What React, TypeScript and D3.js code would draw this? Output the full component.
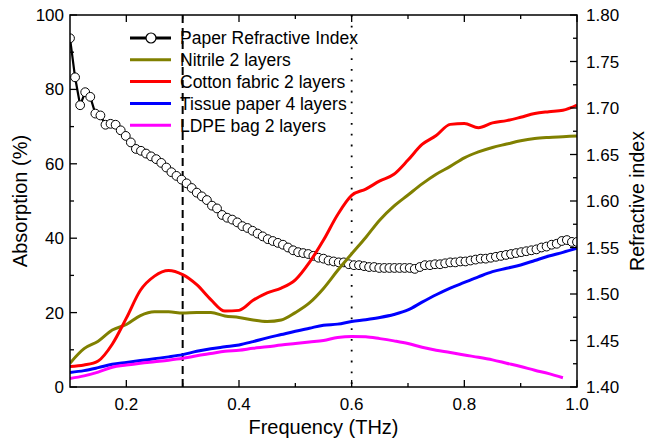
import React from 'react'
import * as d3 from 'd3'

const WIDTH = 647
const HEIGHT = 444
const MARGIN = { top: 15, right: 70, bottom: 57, left: 70 }
const FONT = '"Liberation Sans", Arial, Helvetica, sans-serif'

// shared frequency grid for the absorption curves (THz)
const freq = [
  0.1, 0.125, 0.15, 0.175, 0.2, 0.225, 0.25, 0.275, 0.3, 0.325,
  0.35, 0.375, 0.4, 0.425, 0.45, 0.475, 0.5, 0.525, 0.55, 0.575,
  0.6, 0.625, 0.65, 0.675, 0.7, 0.725, 0.75, 0.775, 0.8, 0.825,
  0.85, 0.875, 0.9, 0.925, 0.95, 0.975, 1.0
]

const nitrile = [
  6.4, 10.3, 12.3, 15.3, 16.8, 19.2, 20.2, 20.2, 19.9, 20.0,
  20.0, 19.1, 18.7, 18.0, 17.6, 18.0, 20.0, 22.6, 26.5, 31.3,
  35.8, 40.2, 44.9, 48.6, 51.6, 54.6, 57.2, 59.3, 61.6, 63.2,
  64.4, 65.3, 66.2, 66.8, 67.1, 67.3, 67.5
]

const cotton = [
  5.5, 5.9, 7.0, 11.5, 18.5, 26.0, 29.8, 31.3, 30.2, 27.5,
  23.5, 20.4, 20.6, 23.3, 25.3, 26.6, 28.8, 33.5, 39.5, 46.3,
  51.5, 53.2, 55.4, 57.2, 61.0, 65.2, 67.6, 70.6, 70.8, 69.7,
  71.0, 71.6, 72.5, 73.5, 74.0, 74.4, 75.8
]

const tissue = [
  3.9, 4.4, 5.2, 6.1, 6.6, 7.1, 7.6, 8.1, 8.7, 9.6,
  10.3, 10.8, 11.3, 12.2, 13.2, 14.1, 15.0, 15.8, 16.6, 16.9,
  17.6, 18.1, 18.7, 19.5, 20.7, 22.8, 24.8, 26.6, 28.1, 29.6,
  31.0, 31.9, 32.8, 34.0, 35.2, 36.2, 37.3
]

const ldpe = [
  2.3, 3.0, 4.0, 5.3, 5.9, 6.4, 6.8, 7.2, 7.7, 8.4,
  9.0, 9.6, 9.9, 10.4, 10.8, 11.3, 11.7, 12.1, 12.5, 13.3,
  13.6, 13.5, 13.0, 12.4, 11.7, 10.7, 9.9, 9.3, 8.6, 8.0,
  7.3, 6.4, 5.5, 4.5, 3.6, 2.5, null
]

// paper refractive index (right axis), sampled denser
const paperFreq = [
  0.100, 0.109, 0.118, 0.127, 0.136, 0.145, 0.154, 0.163, 0.172, 0.181,
  0.190, 0.199, 0.208, 0.217, 0.226, 0.235, 0.244, 0.253, 0.262, 0.271,
  0.280, 0.289, 0.298, 0.307, 0.316, 0.325, 0.334, 0.343, 0.352, 0.361,
  0.370, 0.379, 0.388, 0.397, 0.406, 0.415, 0.424, 0.433, 0.442, 0.451,
  0.460, 0.469, 0.478, 0.487, 0.496, 0.505, 0.514, 0.523, 0.532, 0.541,
  0.550, 0.559, 0.568, 0.577, 0.586, 0.595, 0.604, 0.613, 0.622, 0.631,
  0.640, 0.649, 0.658, 0.667, 0.676, 0.685, 0.694, 0.703, 0.712, 0.721,
  0.730, 0.739, 0.748, 0.757, 0.766, 0.775, 0.784, 0.793, 0.802, 0.811,
  0.820, 0.829, 0.838, 0.847, 0.856, 0.865, 0.874, 0.883, 0.892, 0.901,
  0.910, 0.919, 0.928, 0.937, 0.946, 0.955, 0.964, 0.973, 0.982, 0.991,
  1.000
]

const paperIndex = [
  1.775, 1.733, 1.703, 1.717, 1.712, 1.694, 1.692, 1.682, 1.683, 1.682,
  1.676, 1.670, 1.663, 1.656, 1.654, 1.651, 1.648, 1.645, 1.641, 1.636,
  1.631, 1.627, 1.623, 1.619, 1.614, 1.609, 1.605, 1.601, 1.595, 1.592,
  1.585, 1.582, 1.580, 1.577, 1.573, 1.571, 1.568, 1.565, 1.562, 1.559,
  1.557, 1.555, 1.553, 1.550, 1.547, 1.545, 1.544, 1.543, 1.541, 1.539,
  1.538, 1.536, 1.535, 1.534, 1.534, 1.532, 1.531, 1.531, 1.530, 1.529,
  1.529, 1.528, 1.528, 1.528, 1.528, 1.528, 1.528, 1.528, 1.527, 1.529,
  1.531, 1.531, 1.532, 1.532, 1.533, 1.534, 1.534, 1.535, 1.535, 1.536,
  1.537, 1.538, 1.538, 1.539, 1.540, 1.541, 1.542, 1.543, 1.544, 1.545,
  1.546, 1.547, 1.548, 1.550, 1.551, 1.553, 1.554, 1.557, 1.558, 1.556,
  1.556
]

const xMajor = [0.2, 0.4, 0.6, 0.8, 1.0]
const xMinor = [0.3, 0.5, 0.7, 0.9]
const leftMajor = [0, 20, 40, 60, 80, 100]
const leftMinor = [10, 30, 50, 70, 90]
const rightMajor = [1.4, 1.45, 1.5, 1.55, 1.6, 1.65, 1.7, 1.75, 1.8]
const rightMinor = [1.425, 1.475, 1.525, 1.575, 1.625, 1.675, 1.725, 1.775]

const series = [
  { label: 'Nitrile 2 layers', values: nitrile, color: '#808000' },
  { label: 'Cotton fabric 2 layers', values: cotton, color: '#ff0000' },
  { label: 'Tissue paper 4 layers', values: tissue, color: '#0000ff' },
  { label: 'LDPE bag 2 layers', values: ldpe, color: '#ff00ff' }
]

const App = () => {
  const x = d3.scaleLinear().domain([0.1, 1.0]).range([MARGIN.left, WIDTH - MARGIN.right])
  const y = d3.scaleLinear().domain([0, 100]).range([HEIGHT - MARGIN.bottom, MARGIN.top])
  const yR = d3.scaleLinear().domain([1.4, 1.8]).range([HEIGHT - MARGIN.bottom, MARGIN.top])

  const x0 = x.range()[0]
  const x1 = x.range()[1]
  const yb = y.range()[0]
  const yt = y.range()[1]

  const line = d3
    .line<[number, number | null]>()
    .defined(d => d[1] != null)
    .x(d => x(d[0]))
    .y(d => y(d[1] as number))
    .curve(d3.curveMonotoneX)

  const paperPts = paperFreq.map((f, i) => [x(f), yR(paperIndex[i])] as [number, number])
  const paperLine = d3.line()(paperPts)

  const legendX = 130
  const legendY = 38
  const legendStep = 21.8

  return (
    <div>
      <style>{'body{margin:0}'}</style>
      <svg width={WIDTH} height={HEIGHT} style={{ display: 'block', background: '#fff' }} fontFamily={FONT}>
        <defs>
          <clipPath id="plot">
            <rect x={x0} y={yt} width={x1 - x0} height={yb - yt} />
          </clipPath>
        </defs>

        {/* reference lines */}
        <line x1={x(0.3)} x2={x(0.3)} y1={yt} y2={yb} stroke="#000" strokeWidth={2} strokeDasharray="8,5" />
        <line x1={x(0.6)} x2={x(0.6)} y1={yt} y2={yb} stroke="#000" strokeWidth={1.8} strokeDasharray="1.8,9" />

        <g clipPath="url(#plot)">
          <path d={paperLine || ''} fill="none" stroke="#000" strokeWidth={2.2} />
          {paperPts.map((p, i) => (
            <circle key={i} cx={p[0]} cy={p[1]} r={4.4} fill="#fff" stroke="#000" strokeWidth={1} />
          ))}
          {series.map(s => (
            <path
              key={s.label}
              d={line(freq.map((f, i) => [f, s.values[i]] as [number, number | null])) || ''}
              fill="none"
              stroke={s.color}
              strokeWidth={3}
              strokeLinejoin="round"
            />
          ))}
        </g>

        {/* frame */}
        <rect x={x0} y={yt} width={x1 - x0} height={yb - yt} fill="none" stroke="#000" strokeWidth={1.5} />

        {/* x ticks (bottom and top, inward) */}
        {xMajor.map(v => (
          <g key={'xM' + v}>
            <line x1={x(v)} x2={x(v)} y1={yb} y2={yb - 7} stroke="#000" strokeWidth={1.3} />
            <line x1={x(v)} x2={x(v)} y1={yt} y2={yt + 7} stroke="#000" strokeWidth={1.3} />
            <text x={x(v)} y={yb + 23} fontSize={17} textAnchor="middle">{v.toFixed(1)}</text>
          </g>
        ))}
        {xMinor.map(v => (
          <g key={'xm' + v}>
            <line x1={x(v)} x2={x(v)} y1={yb} y2={yb - 4} stroke="#000" strokeWidth={1.3} />
            <line x1={x(v)} x2={x(v)} y1={yt} y2={yt + 4} stroke="#000" strokeWidth={1.3} />
          </g>
        ))}

        {/* left axis */}
        {leftMajor.map(v => (
          <g key={'lM' + v}>
            <line x1={x0} x2={x0 + 7} y1={y(v)} y2={y(v)} stroke="#000" strokeWidth={1.3} />
            <text x={x0 - 6} y={y(v) + 6} fontSize={17} textAnchor="end">{v}</text>
          </g>
        ))}
        {leftMinor.map(v => (
          <line key={'lm' + v} x1={x0} x2={x0 + 4} y1={y(v)} y2={y(v)} stroke="#000" strokeWidth={1.3} />
        ))}

        {/* right axis */}
        {rightMajor.map(v => (
          <g key={'rM' + v}>
            <line x1={x1} x2={x1 - 7} y1={yR(v)} y2={yR(v)} stroke="#000" strokeWidth={1.3} />
            <text x={x1 + 9} y={yR(v) + 6} fontSize={17} textAnchor="start">{v.toFixed(2)}</text>
          </g>
        ))}
        {rightMinor.map(v => (
          <line key={'rm' + v} x1={x1} x2={x1 - 4} y1={yR(v)} y2={yR(v)} stroke="#000" strokeWidth={1.3} />
        ))}

        {/* axis titles */}
        <text x={(x0 + x1) / 2} y={434} fontSize={20} textAnchor="middle">Frequency (THz)</text>
        <text transform={`translate(27,${(yt + yb) / 2}) rotate(-90)`} fontSize={20} textAnchor="middle">Absorption (%)</text>
        <text transform={`translate(644,${(yt + yb) / 2}) rotate(-90)`} fontSize={19.5} textAnchor="middle">Refractive index</text>

        {/* legend */}
        <g>
          <line x1={legendX} x2={legendX + 41} y1={legendY} y2={legendY} stroke="#000" strokeWidth={3} />
          <circle cx={legendX + 21} cy={legendY} r={5} fill="#fff" stroke="#000" strokeWidth={1.2} />
          <text x={legendX + 50} y={legendY + 6.3} fontSize={17.5}>Paper Refractive Index</text>
          {series.map((s, i) => {
            const ly = legendY + legendStep * (i + 1)
            return (
              <g key={'lg' + s.label}>
                <line x1={legendX} x2={legendX + 41} y1={ly} y2={ly} stroke={s.color} strokeWidth={3} />
                <text x={legendX + 50} y={ly + 6.3} fontSize={17.5}>{s.label}</text>
              </g>
            )
          })}
        </g>
      </svg>
    </div>
  )
}

export default App
